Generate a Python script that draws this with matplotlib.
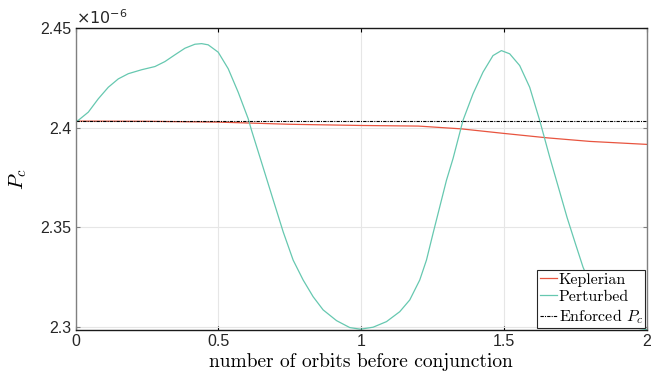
"""Pc vs number of orbits before conjunction (Keplerian / Perturbed / Enforced)."""

import matplotlib

matplotlib.use("Agg")
import matplotlib.pyplot as plt

# values, Pc in units of 1e-6
orbits_kep = [0.0, 0.25, 0.5, 0.75, 1.0, 1.2, 1.35, 1.5, 1.65, 1.8, 2.0]
pc_kep = [2.4034, 2.4033, 2.4029, 2.4018, 2.4012, 2.4009, 2.3995, 2.3972, 2.3950, 2.3932, 2.3917]

orbits_pert = [
    0.0, 0.0098, 0.0448, 0.0797, 0.1147, 0.1497, 0.1846, 0.2315, 0.2780, 0.3129,
    0.3479, 0.3829, 0.4178, 0.4413, 0.4643, 0.4993, 0.5343, 0.5692, 0.6042, 0.6161,
    0.645, 0.692, 0.7266, 0.7615, 0.7965, 0.8315, 0.8664, 0.9133, 0.9598, 0.9972,
    1.0413, 1.0881, 1.1346, 1.1696, 1.2045, 1.2280, 1.2510, 1.298, 1.3210, 1.3559,
    1.3909, 1.4259, 1.4608, 1.4902, 1.5192, 1.5542, 1.5892, 1.6241, 1.6591, 1.69,
    1.72, 1.75, 1.776, 1.80, 1.84, 1.88, 1.92, 1.96, 2.0,
]
pc_pert = [
    2.4034, 2.4038, 2.4079, 2.4146, 2.4204, 2.4246, 2.4272, 2.4292, 2.4308, 2.4333,
    2.4367, 2.4400, 2.4420, 2.4423, 2.4417, 2.4380, 2.4297, 2.4179, 2.4046, 2.3987,
    2.3854, 2.3637, 2.3478, 2.3336, 2.3236, 2.3152, 2.3086, 2.3032, 2.2997, 2.2989,
    2.2999, 2.3027, 2.3077, 2.3136, 2.3236, 2.3336, 2.3470, 2.3737, 2.3846, 2.4038,
    2.4171, 2.4280, 2.4363, 2.4388, 2.4372, 2.4313, 2.4204, 2.4038, 2.3854, 2.3700,
    2.3550, 2.3415, 2.3300, 2.3220, 2.3120, 2.3055, 2.3020, 2.2995, 2.2987,
]

orbits_enf = [0.0, 2.0]
pc_enf = [2.4037, 2.4037]

x_ticks = [0, 0.5, 1, 1.5, 2]
x_ticklabels = ["0", "0.5", "1", "1.5", "2"]
y_ticks = [2.3, 2.35, 2.4, 2.45]
y_ticklabels = ["2.3", "2.35", "2.4", "2.45"]

RED = "#e8543f"
TEAL = "#66c8b0"
SANS = ["Liberation Sans", "DejaVu Sans"]

plt.rcParams["mathtext.fontset"] = "cm"

fig = plt.figure(figsize=(6.63, 3.83), dpi=100)
ax = fig.add_axes([0.1139, 0.1384, 0.8621, 0.7877])

ax.plot(orbits_kep, pc_kep, color=RED, lw=0.9, label="Keplerian")
ax.plot(orbits_pert, pc_pert, color=TEAL, lw=0.9, label="Perturbed")
ax.plot(orbits_enf, pc_enf, color="black", lw=0.8, ls="-.", dashes=(3, 1, 1, 1), label="Enforced $P_c$")

ax.set_xlim(0, 2)
ax.set_ylim(2.2985, 2.45)
ax.set_xticks(x_ticks, x_ticklabels)
ax.set_yticks(y_ticks, y_ticklabels)
ax.grid(True, color="#e6e6e6", lw=0.8)
ax.set_axisbelow(True)

for lab in ax.get_xticklabels() + ax.get_yticklabels():
    lab.set_family(SANS)
    lab.set_fontsize(11.5)
    lab.set_color("#262626")
ax.tick_params(direction="in", length=3, width=0.8, top=True, right=True, pad=3)
ax.tick_params(axis="y", colors="#808080", labelcolor="#262626")
ax.spines["left"].set_color("#808080")
ax.spines["right"].set_color("#808080")
for side in ("top", "bottom"):
    ax.spines[side].set_color("#1a1a1a")
for sp in ax.spines.values():
    sp.set_linewidth(1.0)

ax.text(0.0, 1.005, r"$\times10^{-6}$", transform=ax.transAxes, ha="left", va="bottom",
        fontsize=11.5, color="#262626", family=SANS, math_fontfamily="dejavusans")

ax.set_xlabel("number of orbits before conjunction", family="cmr10", fontsize=14, labelpad=3)
ax.set_ylabel("$P_c$", fontsize=15, labelpad=8)

leg = ax.legend(loc="lower right", bbox_to_anchor=(1.0, 0.0), prop={"family": "cmr10", "size": 11.5},
                handlelength=1.1, handletextpad=0.1, borderpad=0.15, labelspacing=0.2,
                borderaxespad=0.1, fancybox=False, framealpha=1, edgecolor="#262626")
leg.get_frame().set_linewidth(0.8)

fig.savefig("out.png", dpi=100)
